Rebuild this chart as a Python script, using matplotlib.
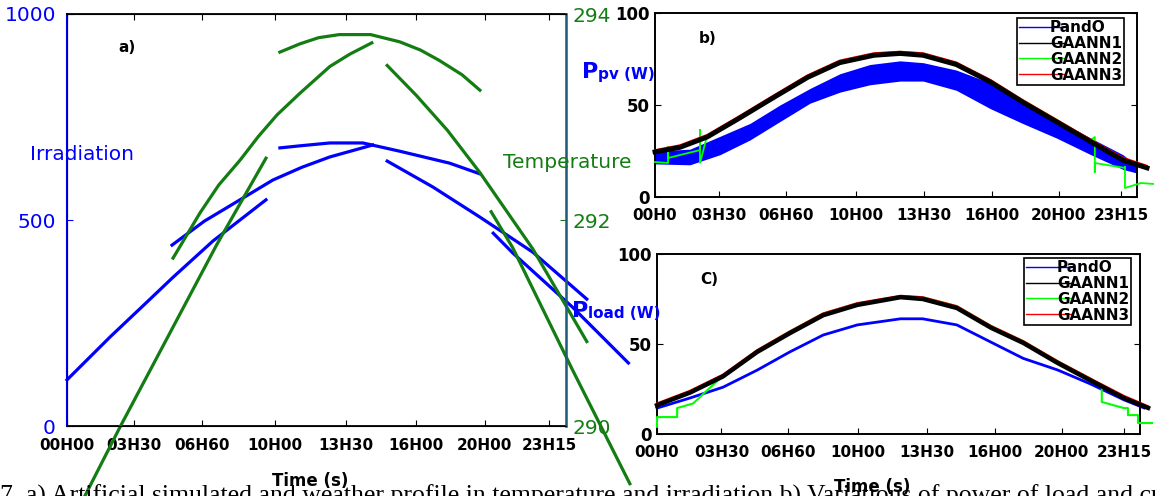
import matplotlib.pyplot as plt
from matplotlib.lines import Line2D
from matplotlib.transforms import ScaledTranslation

plt.rcParams['font.family'] = 'DejaVu Sans'

W, H = 1155, 496
BLUE = '#0000ff'
GREEN = '#137d13'

hour_ticks = [0, 3.2, 6.5, 10.0, 13.4, 16.8, 20.1, 23.2]
labels_a = ['00H00', '03H30', '06H60', '10H00', '13H30', '16H00', '20H00', '23H15']
labels_bc = ['00H0', '03H30', '06H60', '10H00', '13H30', '16H00', '20H00', '23H15']

# a) irradiation segments (left axis)
irr1_t = [0, 2.07, 3.85, 5.1, 7.02, 9.57]
irr1_v = [112, 216, 301, 361, 449, 549]
irr2_t = [5.05, 6.6, 8.32, 9.9, 11.3, 12.64, 14.7]
irr2_v = [439, 497, 549, 597, 628, 653, 682]
irr3_t = [10.24, 11.2, 12.64, 14.23, 16.0, 18.4, 19.86]
irr3_v = [675, 680, 687, 687, 667, 638, 612]
irr4_t = [15.4, 17.6, 19.86, 22.4, 25.0]
irr4_v = [643, 580, 507, 422, 308]
irr5_t = [20.5, 21.44, 24.3, 27.0]
irr5_v = [468, 420, 289, 153]

# a) temperature segments (right axis)
tmp1_t = [10.24, 11.2, 12.1, 13.1, 14.6, 16.0, 17.0, 17.9, 19.0, 19.86]
tmp1_v = [293.63, 293.71, 293.77, 293.80, 293.80, 293.73, 293.65, 293.55, 293.41, 293.26]
tmp2_t = [5.1, 6.4, 7.3, 8.32, 9.2, 10.1, 11.2, 12.64, 13.6, 14.66]
tmp2_v = [291.63, 292.07, 292.34, 292.58, 292.81, 293.02, 293.23, 293.49, 293.61, 293.72]
tmp3_t = [0.63, 2.55, 7.2, 9.57]
tmp3_v = [289.23, 289.99, 291.76, 292.60]
tmp4_t = [15.4, 16.8, 18.3, 19.86, 22.4, 25.0]
tmp4_v = [293.50, 293.21, 292.87, 292.46, 291.72, 290.82]
tmp5_t = [20.4, 21.44, 24.3, 27.07]
tmp5_v = [292.08, 291.73, 290.55, 289.44]

# b) Ppv
b_t = [0, 1.74, 3.24, 4.73, 6.22, 7.72, 9.21, 10.7, 12.2, 13.35, 15.0, 16.7, 18.3, 20.0, 21.7, 23.3, 24.0]
b_pando_hi = [25, 26, 33, 40, 50, 59, 67, 72, 74, 73, 69, 62, 52, 42, 32, 23, 17]
b_pando_lo = [18, 17.5, 23, 31, 41, 51, 57, 61, 63, 63, 58, 48, 40, 32, 23, 15, 13]
b_g1_t = [0, 1.25, 2.6, 4.23, 5.9, 7.6, 9.2, 10.9, 12.2, 13.35, 15.0, 16.7, 18.3, 20.0, 21.7, 23.3, 24.5]
b_g1 = [24.5, 27, 32.6, 43, 54, 65, 73, 77, 78, 77, 72, 62.5, 51.6, 40.8, 30, 20, 15.8]
b_g3 = [25.5, 28.2, 33.8, 44.2, 55.2, 66.2, 74.2, 78.2, 79, 78.2, 73.2, 63.7, 52.8, 42, 31.2, 21.4, 17]
b_g2_t = [0, 0.65, 0.65, 0.65, 2.24, 2.24, 2.24, 2.6, 4.23, 5.9, 7.6, 9.2, 10.9, 12.2, 13.35,
          15.0, 16.7, 18.3, 20.0, 21.7, 21.9, 21.9, 21.9, 23.4, 23.4, 23.4, 24.2, 24.8]
b_g2 = [19, 18.5, 27.2, 21.2, 25.5, 36.4, 18.5, 33.5, 43.8, 55, 66, 74, 78, 79, 78,
        73, 63.5, 52.7, 42, 31, 32.6, 13.6, 18.5, 15.8, 16.3, 4.9, 7.6, 7.1]

# c) Pload
c_pando_t = [0, 1.64, 3.28, 4.98, 6.6, 8.26, 9.95, 12.1, 13.2, 14.9, 16.6, 18.2, 19.9, 21.5, 23.2, 24.2]
c_pando = [14.4, 20, 26, 35.5, 45.6, 55, 60.6, 64, 64, 60.6, 51, 42, 35.6, 28, 19, 14.5]
c_g1_t = [0, 1.64, 3.28, 4.98, 6.6, 8.26, 9.95, 12.1, 13.2, 14.9, 16.6, 18.2, 19.9, 21.5, 23.2, 24.4]
c_g1 = [16, 23, 32, 45.6, 56, 66, 71.7, 76, 75, 70, 59, 50.6, 39.5, 30, 20, 14.5]
c_g3 = [17, 24, 33, 46.6, 57, 67, 72.7, 76.8, 76, 71, 60, 51.6, 40.5, 31, 21.2, 15.4]
c_g2_t = [0, 0, 1.0, 1.0, 1.8, 3.28, 4.98, 6.6, 8.26, 9.95, 12.1, 13.2, 14.9, 16.6, 18.2,
          19.9, 21.5, 22.1, 22.1, 23.2, 23.4, 23.4, 23.9, 23.9, 24.6]
c_g2 = [4, 9.4, 9.4, 14.4, 17, 32.5, 46.5, 57, 67, 72.5, 76.5, 76, 71, 60, 51.5,
        40.5, 31, 27, 17.8, 14.4, 14.4, 10.5, 10.5, 6.1, 6.1]


def box(l, t, r, b):
    return [l / W, 1 - b / H, (r - l) / W, (b - t) / H]


fig = plt.figure(figsize=(W / 100, H / 100), dpi=100)
shift = ScaledTranslation(0.08, 0, fig.dpi_scale_trans)

# ---------------- panel a
ax = fig.add_axes(box(67, 14, 566, 426))
ax2 = ax.twinx()
for t, v in [(irr1_t, irr1_v), (irr2_t, irr2_v), (irr3_t, irr3_v), (irr4_t, irr4_v), (irr5_t, irr5_v)]:
    ax.plot(t, v, color=BLUE, lw=2.3, clip_on=False)
for t, v in [(tmp1_t, tmp1_v), (tmp2_t, tmp2_v), (tmp3_t, tmp3_v), (tmp4_t, tmp4_v), (tmp5_t, tmp5_v)]:
    ax2.plot(t, v, color=GREEN, lw=2.3, clip_on=False)
ax.set_xlim(0, 24)
ax.set_ylim(0, 1000)
ax2.set_ylim(290, 294)
ax.set_yticks([0, 500, 1000])
ax2.set_yticks([290, 292, 294])
ax.set_xticks(hour_ticks)
ax.set_xticklabels(labels_a, fontsize=11, fontweight='bold')
for lbl in ax.get_xticklabels():
    lbl.set_transform(lbl.get_transform() + shift)
ax.tick_params(axis='x', direction='in', top=True, length=4, pad=9)
ax.tick_params(axis='y', direction='in', colors=BLUE, labelsize=14.5, length=4, pad=8)
ax2.tick_params(axis='y', direction='in', colors=GREEN, labelsize=14.5, length=4, pad=5)
ax.spines['left'].set_color(BLUE)
ax.spines['left'].set_linewidth(1.5)
ax2.spines['right'].set_color('#1f5c7a')
ax2.spines['right'].set_linewidth(1.8)
for s in ['top', 'bottom']:
    ax.spines[s].set_linewidth(1.3)
ax.set_xlabel('Time (s)', fontsize=12, fontweight='bold')
ax.xaxis.set_label_coords((310 - 67) / 499, -(472 - 426) / 412)
ax.text(118 / W, 1 - 47 / H, 'a)', transform=fig.transFigure, fontsize=11,
        fontweight='bold', va='center')
fig.text(30 / W, 1 - 155 / H, 'Irradiation', color=BLUE, fontsize=14.5, va='center')
fig.text(503 / W, 1 - 163 / H, 'Temperature', color=GREEN, fontsize=14.5, va='center')
fig.text(582 / W, 1 - 72 / H, 'P', color=BLUE, fontsize=16, fontweight='bold', va='center')
fig.text(598 / W, 1 - 75 / H, 'pv (W)', color=BLUE, fontsize=11, fontweight='bold', va='center')
fig.text(572 / W, 1 - 311 / H, 'P', color=BLUE, fontsize=16, fontweight='bold', va='center')
fig.text(588 / W, 1 - 314 / H, 'load (W)', color=BLUE, fontsize=11, fontweight='bold', va='center')


def style_small(a, labels, letter):
    a.set_xlim(0, 24)
    a.set_ylim(0, 100)
    a.set_yticks([0, 50, 100])
    a.set_xticks(hour_ticks)
    a.set_xticklabels(labels, fontsize=11, fontweight='bold')
    for lbl in a.get_yticklabels():
        lbl.set_fontweight('bold')
    a.tick_params(axis='x', direction='in', length=4, pad=8)
    a.tick_params(axis='y', direction='in', right=True, labelsize=12, length=4, pad=4)
    for s in a.spines.values():
        s.set_linewidth(1.4)
    a.text(0.09, 0.86, letter, transform=a.transAxes, fontsize=11, fontweight='bold', va='center')


def add_legend(a, l, t):
    handles = [Line2D([], [], color=BLUE, lw=1),
               Line2D([], [], color='black', lw=1),
               Line2D([], [], color='#00ff00', lw=1),
               Line2D([], [], color='#ff0000', lw=1)]
    leg = a.legend(handles, ['PandO', 'GAANN1', 'GAANN2', 'GAANN3'], loc='upper left',
                   bbox_to_anchor=(l / W, 1 - t / H), bbox_transform=fig.transFigure,
                   prop={'weight': 'bold', 'size': 11}, handlelength=3.0, handletextpad=-1.0,
                   labelspacing=0.05, borderpad=0.15, borderaxespad=0, fancybox=False,
                   framealpha=1, edgecolor='black')
    leg.get_frame().set_linewidth(1.2)


# ---------------- panel b
axb = fig.add_axes(box(655, 13, 1137, 197))
axb.fill_between(b_t, b_pando_lo, b_pando_hi, color=BLUE, lw=0, zorder=2)
axb.plot(b_g2_t, b_g2, color='#00ff00', lw=1.3, zorder=3, clip_on=False)
axb.plot(b_g1_t, b_g3, color='#ff0000', lw=1.3, zorder=3, clip_on=False)
axb.plot(b_g1_t, b_g1, color='black', lw=3.5, zorder=4, clip_on=False)
style_small(axb, labels_bc, 'b)')
add_legend(axb, 1017, 18)

# ---------------- panel c
axc = fig.add_axes(box(657, 254, 1140, 434))
axc.plot(c_pando_t, c_pando, color=BLUE, lw=2, zorder=2, clip_on=False)
axc.plot(c_g2_t, c_g2, color='#00ff00', lw=1.5, zorder=3, clip_on=False)
axc.plot(c_g1_t, c_g3, color='#ff0000', lw=1.5, zorder=3, clip_on=False)
axc.plot(c_g1_t, c_g1, color='black', lw=3.2, zorder=4, clip_on=False)
style_small(axc, labels_bc, 'C)')
add_legend(axc, 1024, 258)
axc.set_xlabel('Time (s)', fontsize=12, fontweight='bold')
axc.xaxis.set_label_coords((872 - 657) / 483, -(478 - 434) / 180)

fig.text(0.0, 1 - 503 / H,
         '7. a) Artificial simulated and weather profile in temperature and irradiation '
         'b) Variations of power of load and current',
         family='Liberation Serif', fontsize=18.5, va='baseline')

fig.savefig('out.png', dpi=100)
